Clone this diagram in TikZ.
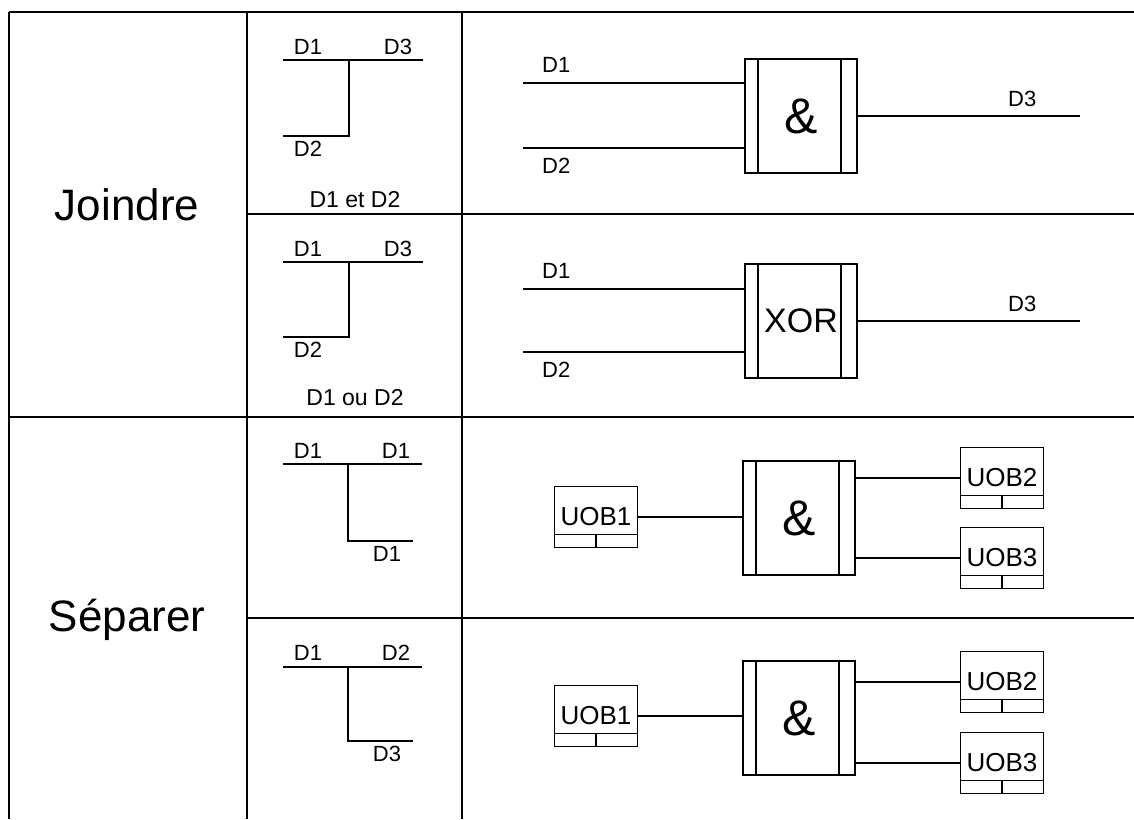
\documentclass[tikz,border=0pt]{standalone}
\usepackage{fontspec}
\setmainfont{Liberation Sans}
\usepackage{tikz}
\usetikzlibrary{positioning, calc}
\tikzset{
  gridline/.style={draw=black, line width=1.6pt},
  wire/.style={draw=black, line width=1.2pt},
  gatebox/.style={rectangle, draw=black, line width=1.3pt,
                  minimum width=112pt, minimum height=114pt, inner sep=0pt,
                  font=\fontsize{50}{54}\selectfont,
                  path picture={
                    \draw[line width=1.3pt]
                      ([xshift=13pt]path picture bounding box.north west) --
                      ([xshift=13pt]path picture bounding box.south west)
                      ([xshift=-16pt]path picture bounding box.north east) --
                      ([xshift=-16pt]path picture bounding box.south east);}},
  uobbox/.style={rectangle, draw=black, line width=1.2pt,
                 minimum width=83pt, minimum height=61pt, inner sep=0pt,
                 font=\fontsize{26}{28}\selectfont,
                 path picture={
                   \draw[line width=1.2pt]
                     ([yshift=13pt]path picture bounding box.south west) --
                     ([yshift=13pt]path picture bounding box.south east)
                     ([yshift=13pt]path picture bounding box.south) --
                     (path picture bounding box.south);}},
  dlabel/.style={font=\fontsize{22}{24}\selectfont, inner sep=0pt},
  oplabel/.style={font=\fontsize{23}{25}\selectfont, inner sep=0pt},
  rowlabel/.style={font=\fontsize{44}{48}\selectfont, inner sep=0pt},
}

\begin{document}
\begin{tikzpicture}[x=1pt, y=-1pt]
  \useasboundingbox (0,0) rectangle (1134,819);

  % Table grid
  \draw[gridline] (9,12) -- (1134,12);
  \draw[gridline] (9,12) -- (9,819);
  \draw[gridline] (247,12) -- (247,819);
  \draw[gridline] (462,12) -- (462,819);
  \draw[gridline] (247,214) -- (1134,214);
  \draw[gridline] (9,417) -- (1134,417);
  \draw[gridline] (247,618) -- (1134,618);

  % Row titles
  \node[rowlabel] (joindre) at (127,205) {Joindre};
  \node[rowlabel] (separer) at (127,620) {Séparer};

  % Junction symbols in the middle column
  \draw[wire] (283,60) -- (423,60) (349,60) -- (349,136) -- (283,136);
  \node[dlabel] at (308,47) {D1};
  \node[dlabel] at (398,47) {D3};
  \node[dlabel] at (308,149) {D2};
  \node[oplabel] at (355,200) {D1 et D2};

  \draw[wire] (283,262) -- (423,262) (349,262) -- (349,337) -- (283,337);
  \node[dlabel] at (308,249) {D1};
  \node[dlabel] at (398,249) {D3};
  \node[dlabel] at (308,350) {D2};
  \node[oplabel] at (355,398) {D1 ou D2};

  \draw[wire] (283,464) -- (422,464) (348,464) -- (348,541) -- (413,541);
  \node[dlabel] at (308,451) {D1};
  \node[dlabel] at (396,451) {D1};
  \node[dlabel] at (387,554) {D1};

  \draw[wire] (283,667) -- (422,667) (348,667) -- (348,741) -- (413,741);
  \node[dlabel] at (308,653) {D1};
  \node[dlabel] at (396,653) {D2};
  \node[dlabel] at (387,754) {D3};

  % Joindre: AND gate
  \node[gatebox] (andA) at (801,116) {\&};
  \coordinate (inA1) at (523,83);
  \coordinate (inA2) at (523,148);
  \coordinate (outA) at (1080,116);
  \draw[wire] (inA1) -- node[dlabel, above=10pt, pos=0.15] {D1} (inA1 -| andA.west);
  \draw[wire] (inA2) -- node[dlabel, below=10pt, pos=0.15] {D2} (inA2 -| andA.west);
  \draw[wire] (andA.east) -- node[dlabel, above=9pt, pos=0.74] {D3} (outA);

  % Joindre: XOR gate
  \node[gatebox, font=\fontsize{34}{38}\selectfont] (xorB) at (801,321) {XOR};
  \coordinate (inB1) at (523,289);
  \coordinate (inB2) at (523,352);
  \coordinate (outB) at (1080,321);
  \draw[wire] (inB1) -- node[dlabel, above=10pt, pos=0.15] {D1} (inB1 -| xorB.west);
  \draw[wire] (inB2) -- node[dlabel, below=10pt, pos=0.15] {D2} (inB2 -| xorB.west);
  \draw[wire] (xorB.east) -- node[dlabel, above=9pt, pos=0.74] {D3} (outB);

  % Separer: one UOB split into two
  \node[gatebox] (andC) at (799,518) {\&};
  \node[uobbox] (uobC1) at (596,517) {UOB1};
  \node[uobbox] (uobC2) at (1002,478) {UOB2};
  \node[uobbox] (uobC3) at (1002,558) {UOB3};
  \draw[wire] (uobC1.east) -- (uobC1.east -| andC.west);
  \draw[wire] (andC.east |- uobC2) -- (uobC2.west);
  \draw[wire] (andC.east |- uobC3) -- (uobC3.west);

  \node[gatebox] (andD) at (799,718) {\&};
  \node[uobbox] (uobD1) at (596,716) {UOB1};
  \node[uobbox] (uobD2) at (1002,682) {UOB2};
  \node[uobbox] (uobD3) at (1002,763) {UOB3};
  \draw[wire] (uobD1.east) -- (uobD1.east -| andD.west);
  \draw[wire] (andD.east |- uobD2) -- (uobD2.west);
  \draw[wire] (andD.east |- uobD3) -- (uobD3.west);

\end{tikzpicture}
\end{document}
